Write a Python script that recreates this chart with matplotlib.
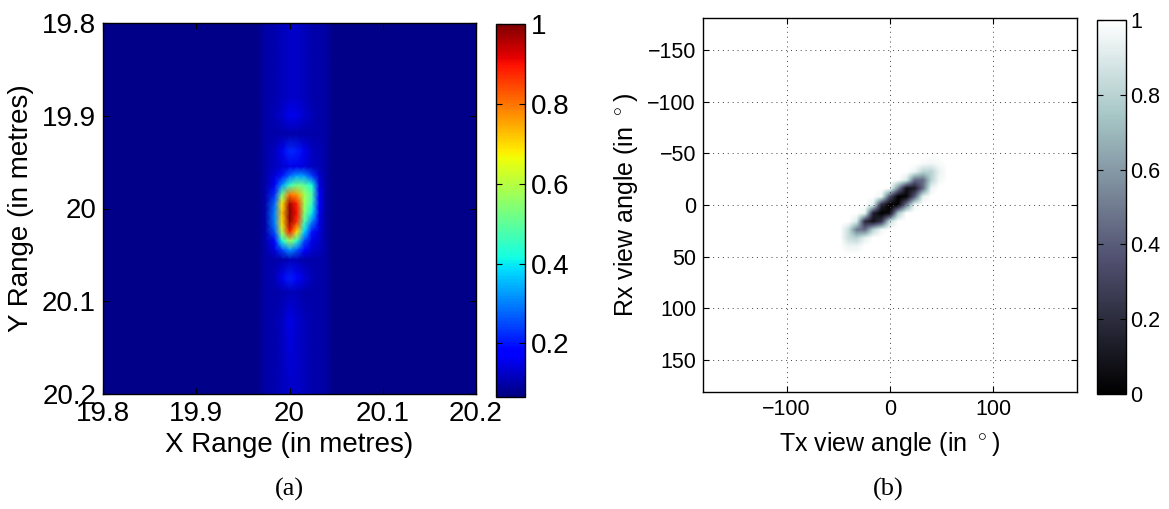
import matplotlib
matplotlib.use("Agg")
import matplotlib.pyplot as plt
import numpy as np

plt.rcParams['font.family'] = ['Liberation Sans', 'DejaVu Sans']
plt.rcParams['mathtext.fontset'] = 'custom'
plt.rcParams['mathtext.rm'] = 'Liberation Sans'

# ---- (a) range image ----
x_nodes = [19.80, 19.966, 19.974, 19.984, 19.992, 20.000, 20.008, 20.016,
           20.024, 20.032, 20.038, 20.046, 20.20]
y_nodes = [19.80, 19.88, 19.90, 19.92, 19.938, 19.955, 19.965, 19.975,
           19.985, 19.995, 20.005, 20.015, 20.025, 20.035, 20.045, 20.055,
           20.075, 20.09, 20.12, 20.20]
bg_val = 0.075
band_val = 0.10
# inner columns (19.984 .. 20.032), one row per y node
inner_rows = [
    [0.105, 0.115, 0.125, 0.125, 0.115, 0.105, 0.10],
    [0.105, 0.115, 0.125, 0.125, 0.115, 0.105, 0.10],
    [0.11, 0.13, 0.16, 0.15, 0.13, 0.11, 0.10],
    [0.10, 0.10, 0.10, 0.10, 0.10, 0.10, 0.10],
    [0.12, 0.16, 0.22, 0.21, 0.16, 0.12, 0.11],
    [0.12, 0.13, 0.15, 0.15, 0.14, 0.12, 0.11],
    [0.14, 0.20, 0.28, 0.33, 0.32, 0.24, 0.13],
    [0.16, 0.32, 0.45, 0.52, 0.50, 0.42, 0.15],
    [0.22, 0.52, 0.80, 0.76, 0.58, 0.48, 0.18],
    [0.28, 0.68, 0.97, 0.88, 0.58, 0.45, 0.17],
    [0.30, 0.72, 1.00, 0.90, 0.55, 0.40, 0.16],
    [0.30, 0.70, 0.98, 0.86, 0.48, 0.30, 0.15],
    [0.26, 0.60, 0.90, 0.70, 0.38, 0.20, 0.14],
    [0.19, 0.42, 0.58, 0.45, 0.25, 0.15, 0.13],
    [0.14, 0.24, 0.32, 0.26, 0.17, 0.13, 0.12],
    [0.10, 0.10, 0.11, 0.11, 0.10, 0.10, 0.10],
    [0.11, 0.16, 0.21, 0.19, 0.14, 0.11, 0.10],
    [0.10, 0.105, 0.11, 0.11, 0.10, 0.10, 0.10],
    [0.105, 0.12, 0.15, 0.13, 0.115, 0.105, 0.10],
    [0.105, 0.115, 0.125, 0.125, 0.115, 0.105, 0.10],
]
range_ticks = [19.8, 19.9, 20.0, 20.1, 20.2]
range_labels = ['19.8', '19.9', '20', '20.1', '20.2']
jet_ticks = [0.2, 0.4, 0.6, 0.8, 1.0]
jet_labels = ['0.2', '0.4', '0.6', '0.8', '1']

# ---- (b) view angle image (bone), 8 deg cells ----
tx_deg = [-48, -40, -32, -24, -16, -8, 0, 8, 16, 24, 32, 40, 48, 56]
rx_deg = [-48, -40, -32, -24, -16, -8, 0, 8, 16, 24, 32, 40, 48, 56]
amb_rows = [
    [1, 1, 1, 1, 1, 1, 1, 1, 1, 1, 1, 1, 1, 1],
    [1, 1, 1, 1, 1, 1, 1, 1, 1, 1, 0.98, 0.96, 0.98, 1],
    [1, 1, 1, 1, 1, 1, 1, 1, 1, 0.95, 0.80, 0.80, 0.94, 1],
    [1, 1, 1, 1, 1, 1, 1, 1, 0.90, 0.45, 0.45, 0.80, 0.97, 1],
    [1, 1, 1, 1, 1, 1, 1, 0.55, 0.08, 0.12, 0.45, 0.95, 1, 1],
    [1, 1, 1, 1, 1, 0.95, 0.35, 0.00, 0.02, 0.40, 0.93, 1, 1, 1],
    [1, 1, 1, 1, 0.92, 0.18, 0.00, 0.02, 0.50, 0.97, 1, 1, 1, 1],
    [1, 1, 1, 0.95, 0.15, 0.00, 0.05, 0.75, 1, 1, 1, 1, 1, 1],
    [1, 1, 0.90, 0.20, 0.08, 0.25, 0.85, 1, 1, 1, 1, 1, 1, 1],
    [1, 0.85, 0.50, 0.45, 0.80, 0.97, 1, 1, 1, 1, 1, 1, 1, 1],
    [1, 0.85, 0.80, 0.93, 1, 1, 1, 1, 1, 1, 1, 1, 1, 1],
    [1, 0.95, 0.95, 1, 1, 1, 1, 1, 1, 1, 1, 1, 1, 1],
    [1, 1, 1, 1, 1, 1, 1, 1, 1, 1, 1, 1, 1, 1],
    [1, 1, 1, 1, 1, 1, 1, 1, 1, 1, 1, 1, 1, 1],
]
rx_ticks = [-150, -100, -50, 0, 50, 100, 150]
tx_ticks = [-100, 0, 100]
bone_ticks = [0, 0.2, 0.4, 0.6, 0.8, 1.0]
bone_labels = ['0', '0.2', '0.4', '0.6', '0.8', '1']

W, H = 1169, 509
fig = plt.figure(figsize=(W / 100, H / 100), dpi=100)

def box(x0, y0, x1, y1):
    return [x0 / W, 1 - y1 / H, (x1 - x0) / W, (y1 - y0) / H]

ax1 = fig.add_axes(box(103, 23, 476, 394))
cax1 = fig.add_axes(box(496, 24, 525, 397))
ax2 = fig.add_axes(box(703, 18, 1077, 392))
cax2 = fig.add_axes(box(1097, 20, 1126, 394))

# panel (a)
z = np.array([[bg_val, bg_val, band_val] + r + [band_val, bg_val, bg_val]
              for r in inner_rows])
m1 = ax1.pcolormesh(x_nodes, y_nodes, z, shading='gouraud', cmap='jet',
                    vmin=0.066, vmax=1.0, rasterized=True)
ax1.set_xlim(19.8, 20.2)
ax1.set_ylim(20.2, 19.8)
ax1.set_xticks(range_ticks)
ax1.set_xticklabels(range_labels)
ax1.set_yticks(range_ticks)
ax1.set_yticklabels(range_labels)
ax1.tick_params(direction='in', length=4, width=0.8, labelsize=20,
                top=True, right=True, pad=5)
ax1.set_xlabel('X Range (in metres)', fontsize=20, labelpad=4)
ax1.set_ylabel('Y Range (in metres)', fontsize=20, labelpad=6)
for s in ax1.spines.values():
    s.set_linewidth(1.0)

cb1 = fig.colorbar(m1, cax=cax1)
cb1.set_ticks(jet_ticks)
cb1.set_ticklabels(jet_labels)
cax1.yaxis.set_ticks_position('both')
cax1.tick_params(direction='in', length=4, width=0.8, labelsize=20,
                 labelleft=False, labelright=True, pad=4)
cb1.outline.set_linewidth(1.0)

# panel (b)
ax2.set_facecolor('white')
m2 = ax2.imshow(np.array(amb_rows), cmap='bone', vmin=0, vmax=1,
                origin='lower', interpolation='bilinear', aspect='auto',
                extent=(tx_deg[0] - 4, tx_deg[-1] + 4,
                        rx_deg[0] - 4, rx_deg[-1] + 4))
ax2.set_xlim(-181, 181)
ax2.set_ylim(181, -181)
ax2.set_xticks(tx_ticks)
ax2.set_yticks(rx_ticks)
ax2.grid(True, color='#444444', linestyle=(0, (1, 4)), linewidth=0.7)
ax2.set_axisbelow(False)
ax2.tick_params(direction='in', length=4, width=0.8, labelsize=15.5,
                top=True, right=True, pad=5)
ax2.set_xlabel(r'Tx view angle (in $\,^{\circ}\,$)', fontsize=18, labelpad=7)
ax2.set_ylabel(r'Rx view angle (in $\,^{\circ}\,$)', fontsize=18, labelpad=5)
for s in ax2.spines.values():
    s.set_linewidth(1.0)

cb2 = fig.colorbar(m2, cax=cax2)
cb2.set_ticks(bone_ticks)
cb2.set_ticklabels(bone_labels)
cax2.yaxis.set_ticks_position('both')
cax2.tick_params(direction='in', length=4, width=0.8, labelsize=15.5,
                 labelleft=False, labelright=True, pad=3)
cb2.outline.set_linewidth(1.0)

fig.text(289 / W, 1 - 489 / H, '(a)', ha='center', va='center',
         fontsize=19, family='Liberation Serif')
fig.text(888 / W, 1 - 489 / H, '(b)', ha='center', va='center',
         fontsize=19, family='Liberation Serif')

fig.savefig('out.png', dpi=100)
